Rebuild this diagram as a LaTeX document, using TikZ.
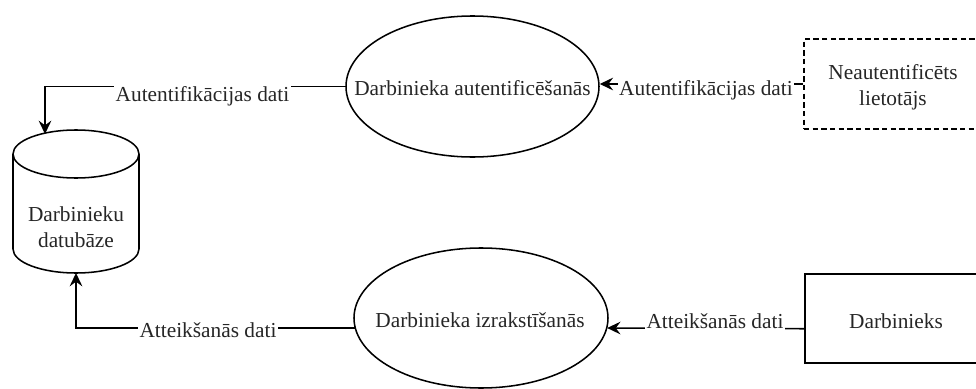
\documentclass[tikz,border=0pt]{standalone}
\usepackage{fontspec}
\setmainfont{Liberation Serif}
\usetikzlibrary{arrows.meta,shapes.geometric}
\tikzset{
  ln/.style={line width=1.15pt, black},
  arr/.style={ln, -{Stealth[length=10pt,width=9.5pt,inset=3.5pt]}},
  proc/.style={ellipse, draw, line width=1.15pt, inner sep=0pt},
  ent/.style={rectangle, draw, line width=1.15pt, inner sep=0pt},
  txt/.style={font=\rmfamily\fontsize{16pt}{19.5pt}\selectfont, text=black!85, inner sep=0pt, align=center},
  lbl/.style={txt, fill=white, inner xsep=1pt, inner ysep=1pt, anchor=base},
}
\begin{document}
\begin{tikzpicture}[x=0.75pt, y=-0.75pt]
\useasboundingbox (0,0) rectangle (976,389);
\clip (0,0) rectangle (976,389);
% cylinder (database)
\draw[ln] (76,154) ellipse [x radius=47.25pt, y radius=18pt];
\draw[ln] (13,154) -- (13,249) arc[start angle=180, end angle=360, x radius=47.25pt, y radius=18pt] -- (139,154);
\node[txt] (db) at (76,227) {Darbinieku\\datubāze};
\coordinate (dbin) at (45,134);
\coordinate (dbout) at (76,273);
% processes
\node[proc, minimum width=189.75pt, minimum height=105.75pt] (auth) at (472.5,86.5) {};
\node[txt, anchor=base] (authT) at (472.5,95) {Darbinieka autentificēšanās};
\node[proc, minimum width=190.5pt, minimum height=105pt] (resign) at (481,318) {};
\node[txt, anchor=base] (resignT) at (480,327.5) {Darbinieka izrakstīšanās};
% external entities
\node[ent, dashed, dash pattern=on 4pt off 2.5pt, minimum width=134.25pt, minimum height=67.5pt] (unauth) at (893.5,84) {};
\node[txt] (unauthT) at (893,87) {Neautentificēts\\lietotājs};
\node[ent, minimum width=136.5pt, minimum height=66.75pt] (emp) at (896,318.75) {};
\node[txt, anchor=base] (empT) at (896,328) {Darbinieks};
% connectors
\draw[arr] (unauth.west) -- (auth.east |- unauth.west);
\draw[arr] (auth.west) -| (dbin);
\draw[arr] ([yshift=-7.5pt]emp.west) -- ([yshift=-7.5pt,xshift=-1.2pt]resign.east);
\draw[arr] ([yshift=-7.5pt,xshift=1.2pt]resign.west) -| (dbout);
% connector labels
\node[lbl] (l1) at (706,95) {Autentifikācijas dati};
\node[lbl] (l2) at (202.5,101) {Autentifikācijas dati};
\node[lbl] (l3) at (715,328) {Atteikšanās dati};
\node[lbl] (l4) at (208,337) {Atteikšanās dati};
\end{tikzpicture}
\end{document}
